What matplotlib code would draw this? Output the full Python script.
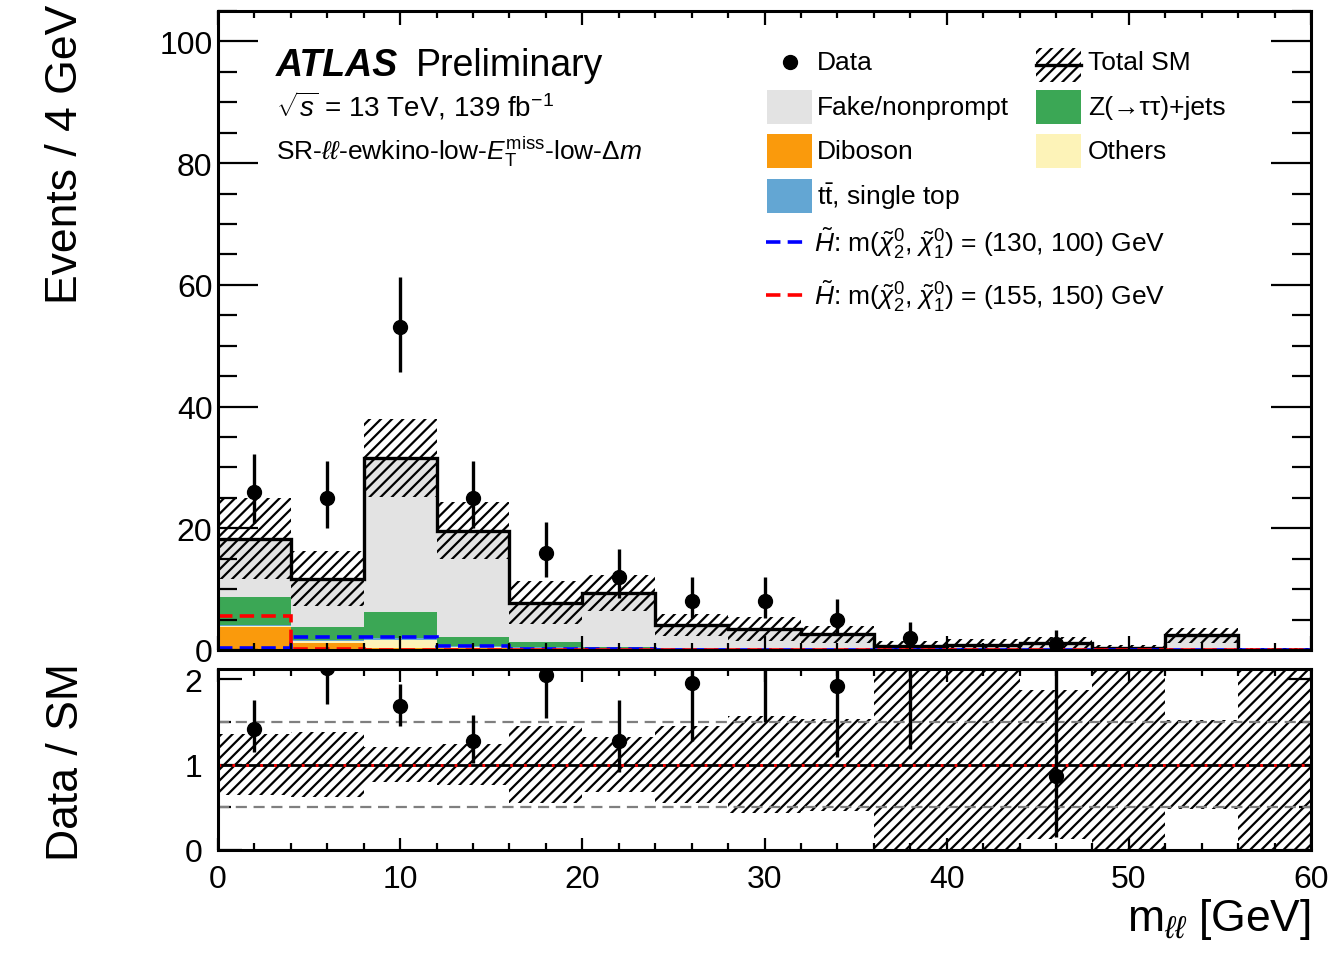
import math
import numpy as np
import matplotlib
matplotlib.use("Agg")
import matplotlib.pyplot as plt
from matplotlib.patches import Rectangle
from matplotlib.lines import Line2D

plt.rcParams["font.family"] = ["Liberation Sans", "DejaVu Sans"]
plt.rcParams["mathtext.fontset"] = "custom"
plt.rcParams["mathtext.rm"] = "Liberation Sans"
plt.rcParams["mathtext.it"] = "Liberation Sans:italic"
plt.rcParams["mathtext.bf"] = "Liberation Sans:bold"
plt.rcParams["hatch.linewidth"] = 1.6

# ---- binning and yields (events per 4 GeV) ----
bin_edges = np.arange(0, 64, 4)
data_counts = [26, 25, 53, 25, 16, 12, 8, 8, 5, 2, 0, 1, 0, 0, 0]

fake_nonprompt = [9.6, 7.9, 25.2, 17.5, 6.5, 8.9, 3.75, 3.3, 2.45, 0.5, 0.72, 1.10, 0.27, 2.38, 0.04]
z_tautau = [4.6, 2.1, 4.4, 1.4, 0.8, 0.2, 0.1, 0.05, 0.03, 0.02, 0.02, 0.0, 0.0, 0.0, 0.0]
ttbar_single_top = [0.1, 0.3, 0.3, 0.2, 0.2, 0.1, 0.1, 0.05, 0.05, 0.03, 0.03, 0.02, 0.02, 0.01, 0.01]
others = [0.2, 0.2, 1.2, 0.2, 0.1, 0.1, 0.05, 0.05, 0.02, 0.02, 0.01, 0.01, 0.0, 0.0, 0.0]
diboson = [3.8, 1.2, 0.4, 0.3, 0.2, 0.1, 0.1, 0.05, 0.05, 0.03, 0.02, 0.02, 0.01, 0.01, 0.0]
total_sm_unc = [6.6, 4.5, 6.4, 4.7, 3.5, 3.0, 1.85, 2.0, 1.4, 0.8, 1.0, 1.0, 0.5, 1.25, 0.3]

signal_130_100 = [0.3, 2.1, 2.1, 0.7, 0.2, 0.1, 0.05, 0.0, 0.0, 0.0, 0.0, 0.0, 0.0, 0.0, 0.0]
signal_155_150 = [5.6, 0.1, 0.0, 0.0, 0.0, 0.0, 0.0, 0.0, 0.0, 0.0, 0.0, 0.0, 0.0, 0.0, 0.0]

x_ticks = [0, 10, 20, 30, 40, 50, 60]

# colours
c_fake = "#e3e3e3"
c_z = "#3ba755"
c_tt = "#63a6d3"
c_oth = "#fdf3b8"
c_dib = "#fa9a0c"
band_hatch = "///"


def poisson_cdf(k, mu):
    term = math.exp(-mu)
    s = term
    for i in range(1, k + 1):
        term *= mu / i
        s += term
    return s


def garwood(n, cl=0.682689):
    a = (1 - cl) / 2
    if n == 0:
        lo = 0.0
    else:
        l, h = 0.0, float(n)
        for _ in range(80):
            m = 0.5 * (l + h)
            if 1 - poisson_cdf(n - 1, m) < a:
                l = m
            else:
                h = m
        lo = 0.5 * (l + h)
    l, h = float(n), n + 10 * math.sqrt(n + 1) + 10
    for _ in range(80):
        m = 0.5 * (l + h)
        if poisson_cdf(n, m) > a:
            l = m
        else:
            h = m
    hi = 0.5 * (l + h)
    return n - lo, hi - n


edges = bin_edges.astype(float)
centers = 0.5 * (edges[:-1] + edges[1:])
data = np.array(data_counts, dtype=float)
stack = [
    (np.array(diboson), c_dib),
    (np.array(others), c_oth),
    (np.array(ttbar_single_top), c_tt),
    (np.array(z_tautau), c_z),
    (np.array(fake_nonprompt), c_fake),
]
total = np.sum([s for s, _ in stack], axis=0)
unc = np.array(total_sm_unc)
errs = np.array([garwood(int(n)) for n in data_counts])
err_lo, err_hi = errs[:, 0], errs[:, 1]
has_data = data > 0

W, H = 1331, 954
fig = plt.figure(figsize=(W / 100, H / 100), dpi=100)
ax = fig.add_axes([218 / W, 1 - 651 / H, (1311 - 218) / W, (651 - 12) / H])
axr = fig.add_axes([218 / W, 1 - 851 / H, (1311 - 218) / W, (851 - 670) / H])

# ---- main panel ----
base = np.zeros_like(total)
for vals, col in stack:
    ax.stairs(base + vals, edges, baseline=base.copy(), fill=True,
              facecolor=col, edgecolor="none", linewidth=0)
    base = base + vals

ax.stairs(total + unc, edges, baseline=np.clip(total - unc, 0, None), fill=True,
          facecolor="none", edgecolor="black", hatch=band_hatch, linewidth=0)
ax.stairs(total, edges, baseline=None, color="black", linewidth=2.4)
ax.stairs(signal_130_100, edges, baseline=None, color="#0000ff",
          linewidth=2.6, linestyle=(0, (4, 2)))
ax.stairs(signal_155_150, edges, baseline=None, color="#ff0000",
          linewidth=2.6, linestyle=(0, (4, 2)))

ax.errorbar(centers[has_data], data[has_data],
            yerr=[err_lo[has_data], err_hi[has_data]], fmt="o", color="black",
            markersize=10, elinewidth=2.4, capsize=0, zorder=10)

ax.set_xlim(0, 60)
ax.set_ylim(0, 105)
ax.set_xticks(x_ticks)
ax.set_xticks(np.arange(0, 61, 2), minor=True)
ax.set_yticks([0, 20, 40, 60, 80, 100])
ax.set_yticks(np.arange(0, 106, 5), minor=True)
ax.tick_params(axis="both", which="both", direction="in", top=True, right=True,
               width=1.6, labelsize=23)
ax.tick_params(axis="y", which="major", length=29, pad=4)
ax.tick_params(axis="y", which="minor", length=14)
ax.tick_params(axis="x", which="major", length=10, labelbottom=False)
ax.tick_params(axis="x", which="minor", length=5)
for sp in ax.spines.values():
    sp.set_linewidth(2.2)


def px(xp, yp):
    return ((xp - 218) / 1093, (651 - yp) / 639)


tr = ax.transAxes
ax.text(*px(276, 66), "ATLAS", transform=tr, fontsize=27, fontweight="bold",
        fontstyle="italic", va="center", ha="left")
ax.text(*px(416, 66), "Preliminary", transform=tr, fontsize=27,
        va="center", ha="left")
ax.text(*px(276, 106), r"$\sqrt{s}$ = 13 TeV, 139 fb$^{-1}$", transform=tr,
        fontsize=20, va="center", ha="left")
ax.text(*px(276, 152),
        r"SR-$\ell\ell$-ewkino-low-$E_{\mathrm{T}}^{\mathrm{miss}}$-low-$\Delta m$",
        transform=tr, fontsize=19, va="center", ha="left")

# legend
leg_fs = 19


def box(x0, yc, col, hatch=None):
    x_a, y_a = px(x0, yc + 17)
    w = 45 / 1093
    h = 34 / 639
    if hatch:
        ax.add_patch(Rectangle((x_a, y_a), w, h, transform=tr, facecolor="white",
                               edgecolor="black", hatch=hatch, linewidth=0,
                               clip_on=False))
        xa, ya = px(x0, yc)
        ax.add_line(Line2D([xa, xa + w], [ya, ya], transform=tr, color="black",
                           linewidth=2.4))
    else:
        ax.add_patch(Rectangle((x_a, y_a), w, h, transform=tr, facecolor=col,
                               edgecolor="none", clip_on=False))


def label(xp, yc, s):
    ax.text(*px(xp, yc), s, transform=tr, fontsize=leg_fs, va="center", ha="left")


ax.plot(*px(790, 63), "o", color="black", markersize=10, transform=tr)
label(817, 63, "Data")
box(1036, 66, None, hatch=band_hatch)
label(1088, 63, "Total SM")

box(767, 108, c_fake)
label(817, 108, "Fake/nonprompt")
box(1036, 108, c_z)
label(1088, 108, "Z(\u2192\u03c4\u03c4)+jets")

box(767, 152, c_dib)
label(817, 152, "Diboson")
box(1036, 152, c_oth)
label(1088, 152, "Others")

box(767, 197, c_tt)
label(817, 197, r"$\mathrm{t\bar{t}}$, single top")

for yc, col, txt in [
    (243, "#0000ff", r"$\tilde{H}$: m($\tilde{\chi}^{0}_{2}$, $\tilde{\chi}^{0}_{1}$) = (130, 100) GeV"),
    (296, "#ff0000", r"$\tilde{H}$: m($\tilde{\chi}^{0}_{2}$, $\tilde{\chi}^{0}_{1}$) = (155, 150) GeV"),
]:
    xa0, ya = px(766, yc)
    xa1, _ = px(806, yc)
    ax.add_line(Line2D([xa0, xa1], [ya, ya], transform=tr, color=col,
                       linewidth=2.6, linestyle=(0, (4, 2))))
    label(814, yc, txt)

# ---- ratio panel ----
ratio_hi = (total + unc) / total
ratio_lo = np.clip((total - unc) / total, 0, None)
axr.stairs(ratio_hi, edges, baseline=ratio_lo, fill=True, facecolor="none",
           edgecolor="black", hatch=band_hatch, linewidth=0)
for yv in (0.5, 1.5):
    axr.axhline(yv, color="#7f7f7f", linewidth=1.6, linestyle=(0, (5, 3)))
axr.axhline(1.0, color="black", linewidth=2.0)
axr.axhline(1.0, color="#ff0000", linewidth=2.0, linestyle=(0, (1, 4)))

r = data / total
axr.errorbar(centers[has_data], r[has_data],
             yerr=[err_lo[has_data] / total[has_data], err_hi[has_data] / total[has_data]],
             fmt="o", color="black", markersize=10, elinewidth=2.4, capsize=0,
             zorder=10)

axr.set_xlim(0, 60)
axr.set_ylim(0, 2.12)
axr.set_xticks(x_ticks)
axr.set_xticks(np.arange(0, 61, 2), minor=True)
axr.set_yticks([0, 1, 2])
axr.set_yticks([0.5, 1.5], minor=True)
axr.tick_params(axis="both", which="both", direction="in", top=True, right=True,
                width=1.6, labelsize=23)
axr.tick_params(axis="y", which="major", length=17, pad=11)
axr.tick_params(axis="y", which="minor", length=9)
axr.tick_params(axis="x", which="major", length=9, pad=10)
axr.tick_params(axis="x", which="minor", length=5)
for sp in axr.spines.values():
    sp.set_linewidth(2.2)

fig.text(66 / W, 1 - 5 / H, "Events / 4 GeV", rotation=90, fontsize=32,
         ha="center", va="top")
fig.text(66 / W, 1 - 663 / H, "Data / SM", rotation=90, fontsize=32,
         ha="center", va="top")
fig.text(1311 / W, 1 - 920 / H, r"m$_{\ell\ell}$ [GeV]", fontsize=32,
         ha="right", va="center")

fig.savefig("out.png", dpi=100)
